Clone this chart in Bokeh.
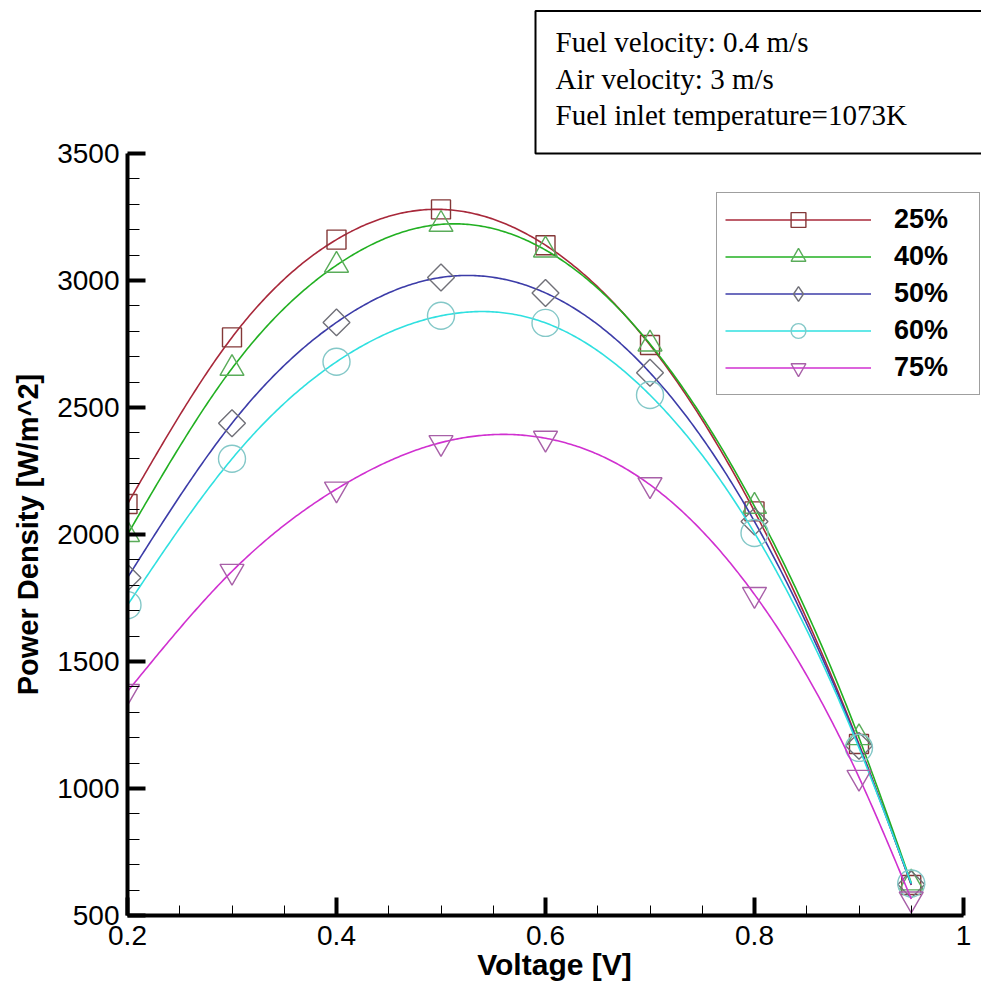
import numpy as np
from bokeh.plotting import figure
from bokeh.models import (Range1d, FixedTicker, CustomJSTickFormatter, Legend,
                          LegendItem, Title, ColumnDataSource)
from bokeh.embed import file_html
from bokeh.resources import INLINE

# ---------------- data ----------------
voltage = [0.2, 0.3, 0.4, 0.5, 0.6, 0.7, 0.8, 0.9, 0.95]
pd_25 = [2120, 2776, 3161, 3280, 3139, 2746, 2091, 1175, 620]
pd_40 = [2000, 2654, 3060, 3221, 3120, 2750, 2111, 1200, 628]
pd_50 = [1830, 2438, 2835, 3012, 2951, 2637, 2051, 1168, 622]
pd_60 = [1722, 2298, 2680, 2861, 2833, 2549, 2006, 1160, 626]
pd_75 = [1382, 1855, 2179, 2362, 2379, 2196, 1764, 1044, 565]
series_labels = ["25%", "40%", "50%", "60%", "75%"]

x_ticks = [0.2, 0.4, 0.6, 0.8, 1.0]
y_ticks = [500, 1000, 1500, 2000, 2500, 3000, 3500]

info_text = "Fuel velocity: 0.4 m/s\nAir velocity: 3 m/s\nFuel inlet temperature=1073K"

# ---------------- styles ----------------
line_colors = ["#a8283a", "#22b022", "#3c3ca8", "#30e0e0", "#d030d0"]
marker_colors = ["#843838", "#5aac5a", "#707078", "#84c8c8", "#a860a8"]
markers = ["square", "triangle", "square", "circle", "inverted_triangle"]
legend_markers = ["square", "triangle", "diamond", "circle", "inverted_triangle"]
marker_sizes = [19, 24, 19, 27, 24]
marker_angles = [0, 0, np.pi / 4, 0, 0]
SANS = "Liberation Sans"
SERIF = "Liberation Serif"

# frame: 0.2..1.0 spans 836 px; frame extended to the window's right edge so the
# legend box is not clipped (the x axis itself is bounded to 0.2..1.0)
FRAME_W = 981 - 127
X_PX = 836 / 0.8


def natural_spline(xs, ys, num=400):
    """Smooth rendering curve through the data points (natural cubic spline)."""
    x = np.asarray(xs, float)
    y = np.asarray(ys, float)
    n = len(x)
    h = np.diff(x)
    A = np.zeros((n, n))
    b = np.zeros(n)
    A[0, 0] = A[-1, -1] = 1.0
    for i in range(1, n - 1):
        A[i, i - 1] = h[i - 1]
        A[i, i] = 2 * (h[i - 1] + h[i])
        A[i, i + 1] = h[i]
        b[i] = 6 * ((y[i + 1] - y[i]) / h[i] - (y[i] - y[i - 1]) / h[i - 1])
    M = np.linalg.solve(A, b)
    xx = np.linspace(x[0], x[-1], num)
    idx = np.clip(np.searchsorted(x, xx) - 1, 0, n - 2)
    hi = h[idx]
    t1 = x[idx + 1] - xx
    t0 = xx - x[idx]
    yy = (M[idx] * t1 ** 3 / (6 * hi) + M[idx + 1] * t0 ** 3 / (6 * hi)
          + (y[idx] / hi - M[idx] * hi / 6) * t1
          + (y[idx + 1] / hi - M[idx + 1] * hi / 6) * t0)
    return xx, yy


p = figure(width=981, height=988, output_backend="svg", toolbar_location=None,
           x_range=Range1d(0.2, 0.2 + FRAME_W / X_PX),
           y_range=Range1d(500, 3500),
           min_border_left=127, min_border_right=0, min_border_top=153,
           min_border_bottom=73, title=None)
p.outline_line_color = None
p.grid.visible = False
p.background_fill_color = "white"
p.border_fill_color = "white"

# info box as a bordered title above the frame
info = Title(text=info_text, align="left", offset=408, standoff=0,
             text_font=SERIF, text_font_size="29px", text_font_style="normal",
             text_line_height=1.15, text_color="black",
             padding=dict(left=20, right=140, top=15, bottom=22),
             border_line_color="black", border_line_width=2,
             background_fill_color="white")
p.add_layout(info, "above")

# axes
p.xaxis.ticker = FixedTicker(ticks=x_ticks,
                             minor_ticks=[round(0.2 + 0.05 * i, 2) for i in range(17)])
p.yaxis.ticker = FixedTicker(ticks=y_ticks, minor_ticks=list(range(500, 3501, 100)))
p.xaxis.bounds = (0.2, 1.0)
p.xaxis.formatter = CustomJSTickFormatter(code="return String(tick)")
p.yaxis.formatter = CustomJSTickFormatter(code="return String(tick)")

for ax in (p.xaxis[0], p.yaxis[0]):
    ax.axis_line_width = 4
    ax.axis_line_color = "black"
    ax.major_tick_in = 18
    ax.major_tick_out = 0
    ax.major_tick_line_width = 4
    ax.minor_tick_out = 0
    ax.minor_tick_line_width = 1
    ax.major_label_text_font = SANS
    ax.major_label_text_font_size = "28px"
    ax.major_label_text_color = "black"
    ax.axis_label_text_font = SANS
    ax.axis_label_text_font_style = "bold"
    ax.axis_label_text_color = "black"

p.xaxis.minor_tick_in = 10
p.yaxis.minor_tick_in = 12
p.xaxis.major_label_standoff = 10
p.yaxis.major_label_standoff = 8
p.xaxis.axis_label = "Voltage [V]"
p.yaxis.axis_label = "Power Density [W/m^2]"
p.xaxis.axis_label_text_font_size = "30px"
p.yaxis.axis_label_text_font_size = "29px"
p.xaxis.axis_label_standoff = 0
p.yaxis.axis_label_standoff = 10

# series
all_series = [pd_25, pd_40, pd_50, pd_60, pd_75]
items = []
for i, ys in enumerate(all_series):
    sx, sy = natural_spline(voltage, ys)
    lr = p.line(sx, sy, line_color=line_colors[i], line_width=1.6)
    sr = p.scatter(voltage, ys, marker=markers[i], size=marker_sizes[i],
                   angle=marker_angles[i], fill_color=None,
                   line_color=marker_colors[i], line_width=1.4)
    if legend_markers[i] != markers[i]:
        # legend-only proxy: a single NaN row, so nothing is drawn in the plot area
        proxy_src = ColumnDataSource(dict(x=[np.nan], y=[np.nan]))
        sr = p.scatter("x", "y", source=proxy_src, marker=legend_markers[i],
                       size=marker_sizes[i], fill_color=None,
                       line_color=marker_colors[i], line_width=1.4)
    items.append(LegendItem(label=series_labels[i], renderers=[lr, sr], index=0))

legend = Legend(items=items, location=(589, 520), glyph_width=146, glyph_height=37,
                spacing=0, padding=8, margin=0, label_standoff=23, label_width=77,
                label_text_font=SANS, label_text_font_size="27px",
                label_text_font_style="bold", label_text_color="black",
                border_line_color="#404040", border_line_width=1.5,
                background_fill_color="white", background_fill_alpha=1.0)
p.add_layout(legend)

open("out.html", "w").write(file_html(p, INLINE))
